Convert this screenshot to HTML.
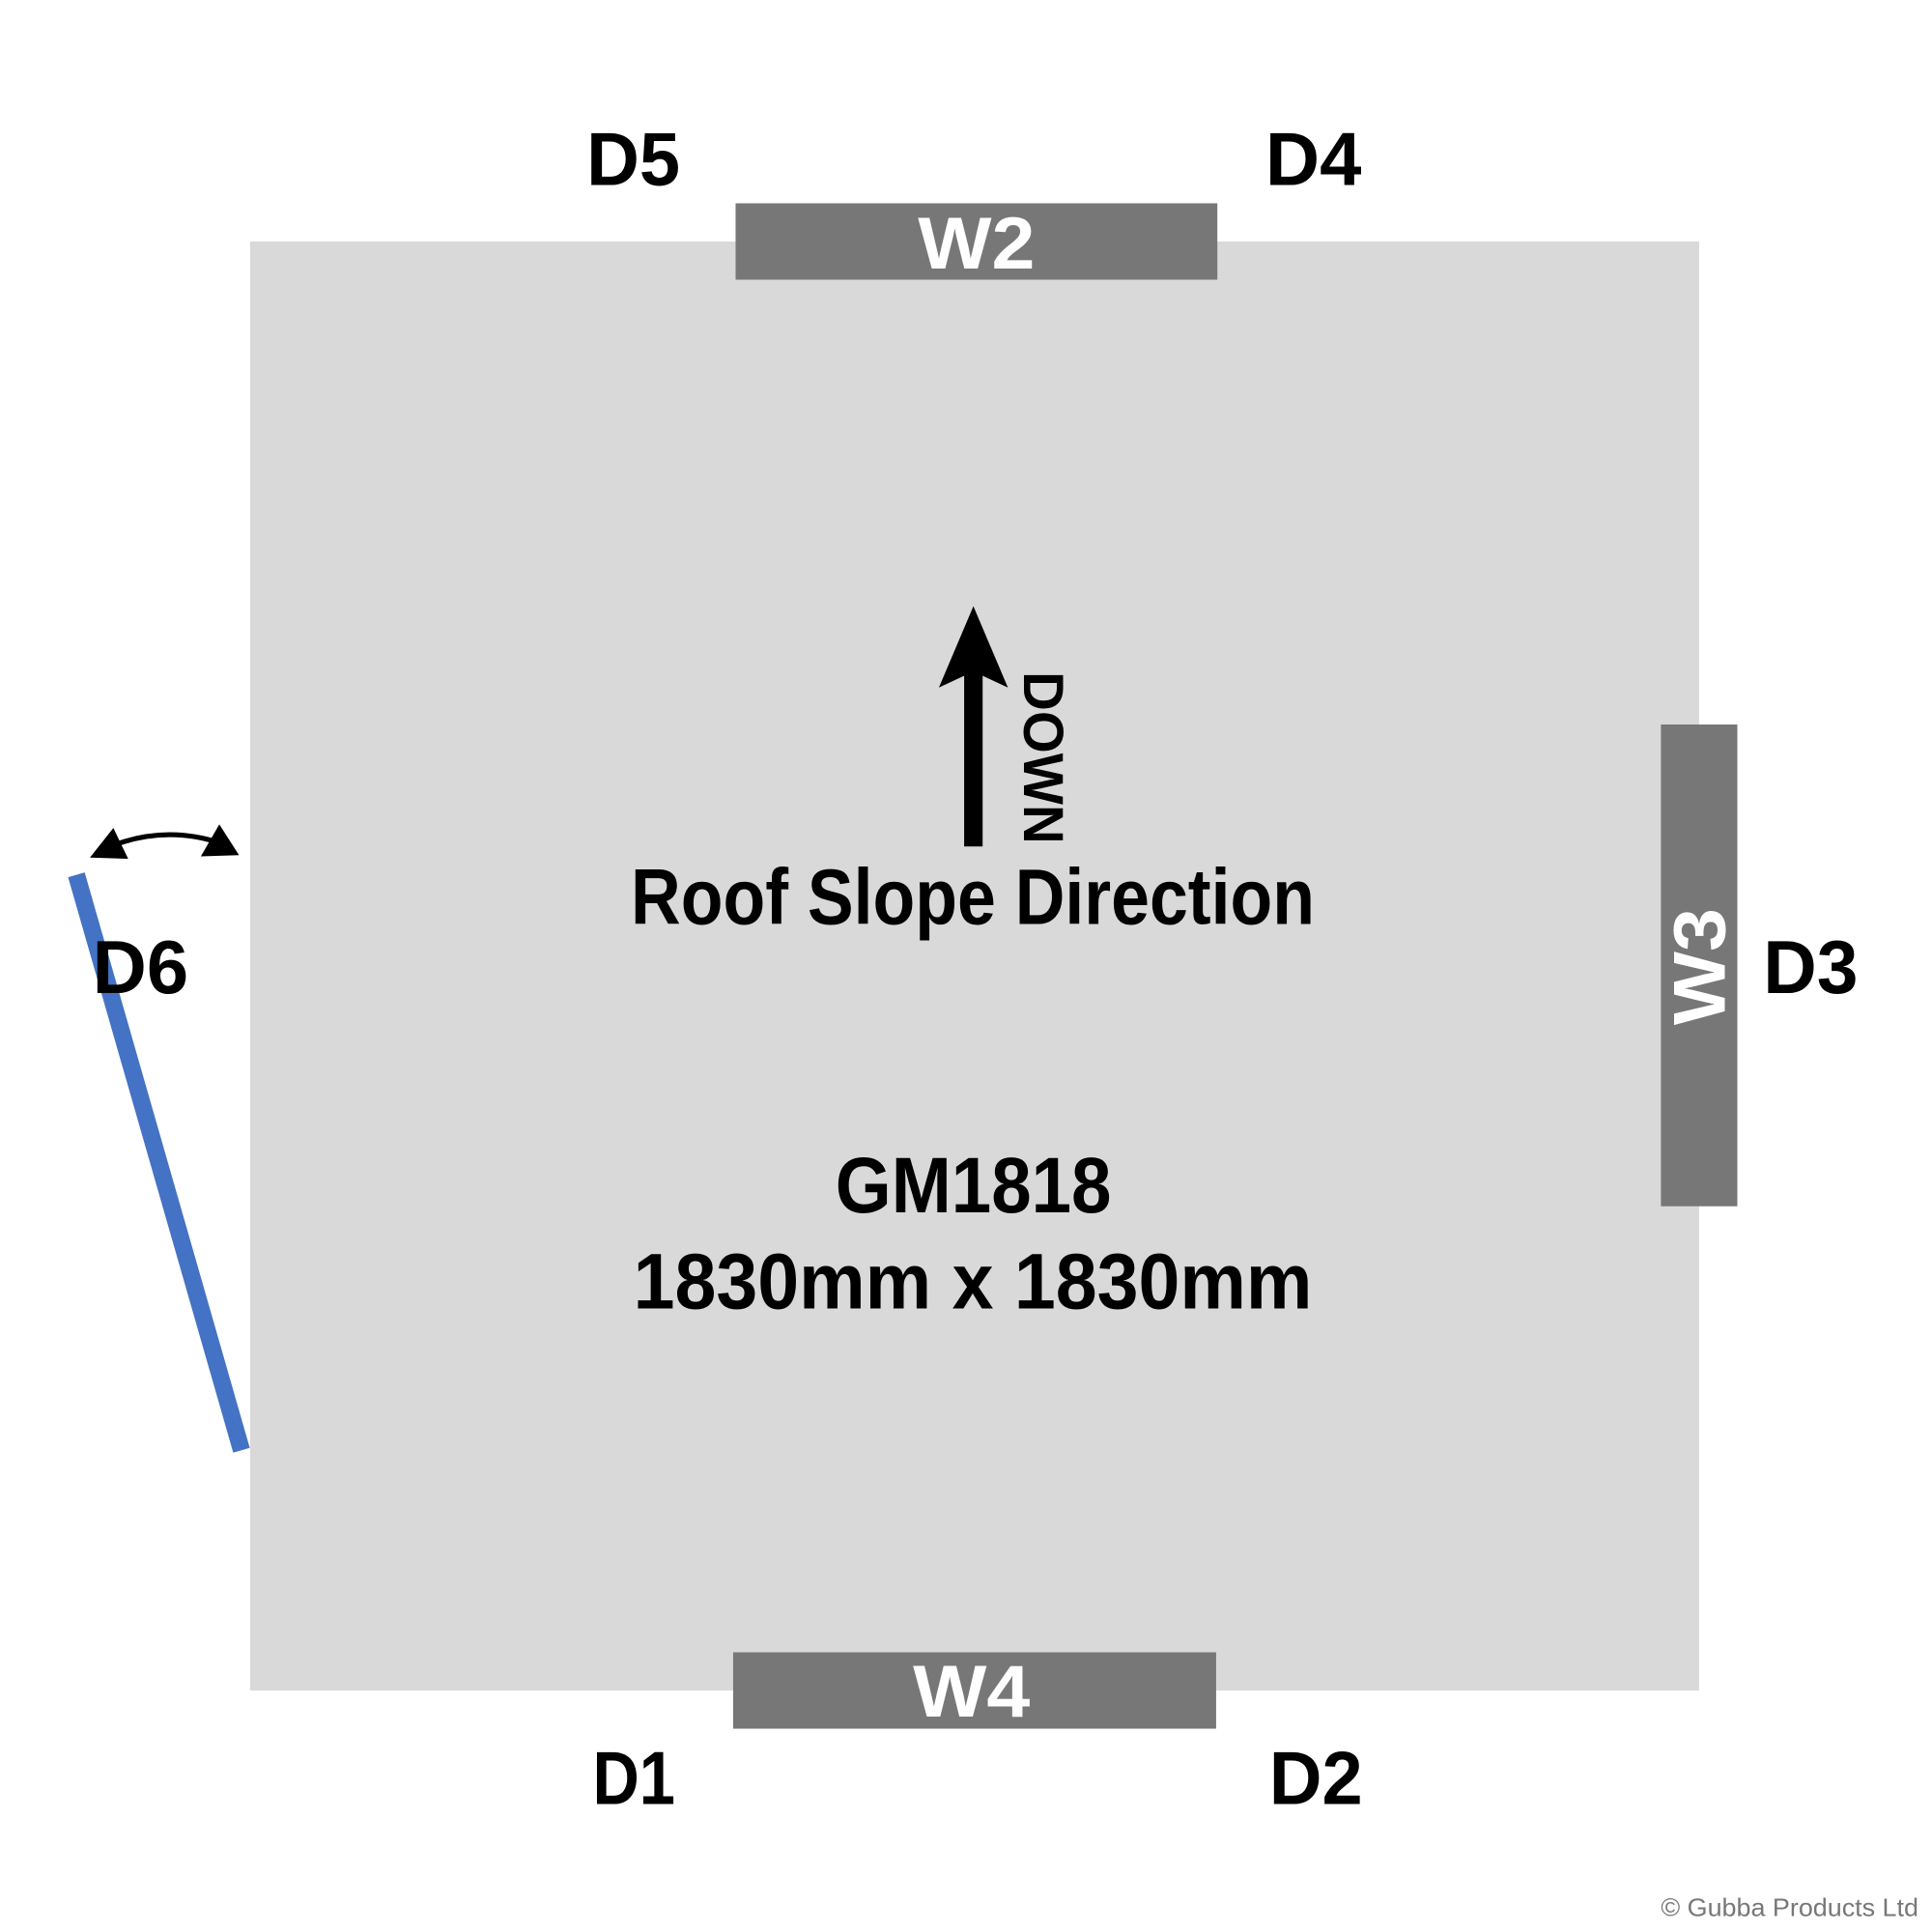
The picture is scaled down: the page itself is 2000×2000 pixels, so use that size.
<!DOCTYPE html>
<html><head><style>html,body{margin:0;padding:0;background:#fff}svg{display:block}</style></head>
<body>
<svg width="2000" height="2000" viewBox="0 0 1568 1568" xmlns="http://www.w3.org/2000/svg" font-family="Liberation Sans, sans-serif" font-weight="bold">
<rect x="203" y="196" width="1176" height="1176" fill="#d9d9d9"/>
<rect x="597" y="165" width="391" height="62" fill="#777"/>
<rect x="595" y="1341" width="392" height="62" fill="#777"/>
<rect x="1348" y="588" width="62" height="391" fill="#777"/>
<line x1="62" y1="710" x2="196" y2="1177" stroke="#4472c4" stroke-width="14"/>
<path d="M92,686 Q135,670 178,684" fill="none" stroke="#000" stroke-width="4"/>
<polygon points="73,696 104,697 92,672" fill="#000"/>
<polygon points="163,695 194,694 178,669" fill="#000"/>
<line x1="790" y1="687" x2="790" y2="545" stroke="#000" stroke-width="15"/>
<polygon points="790,492 762,558 790,545 818,558" fill="#000"/>
<text transform="translate(831,545) rotate(90)" font-size="46" textLength="140" lengthAdjust="spacingAndGlyphs">DOWN</text>
<text x="512" y="750" font-size="64" textLength="555" lengthAdjust="spacingAndGlyphs">Roof Slope Direction</text>
<text x="678" y="984" font-size="64" textLength="224" lengthAdjust="spacingAndGlyphs">GM1818</text>
<text x="514" y="1062" font-size="64" textLength="551" lengthAdjust="spacingAndGlyphs">1830mm x 1830mm</text>
<g font-size="61">
<text x="476" y="150" textLength="76" lengthAdjust="spacingAndGlyphs">D5</text>
<text x="1027" y="150" textLength="78" lengthAdjust="spacingAndGlyphs">D4</text>
<text x="481" y="1464" textLength="67" lengthAdjust="spacingAndGlyphs">D1</text>
<text x="1030" y="1464" textLength="76" lengthAdjust="spacingAndGlyphs">D2</text>
<text x="1431" y="806" textLength="77" lengthAdjust="spacingAndGlyphs">D3</text>
<text x="75" y="806" textLength="78" lengthAdjust="spacingAndGlyphs">D6</text>
</g>
<g font-size="60" fill="#fff">
<text x="745" y="218" textLength="95" lengthAdjust="spacingAndGlyphs">W2</text>
<text x="741" y="1393" textLength="95" lengthAdjust="spacingAndGlyphs">W4</text>
<text transform="translate(1400,832) rotate(-90)" textLength="95" lengthAdjust="spacingAndGlyphs">W3</text>
</g>
<text x="1348" y="1555" font-size="20" font-weight="normal" fill="#777" textLength="209" lengthAdjust="spacingAndGlyphs">© Gubba Products Ltd</text>
</svg>
</body></html>
